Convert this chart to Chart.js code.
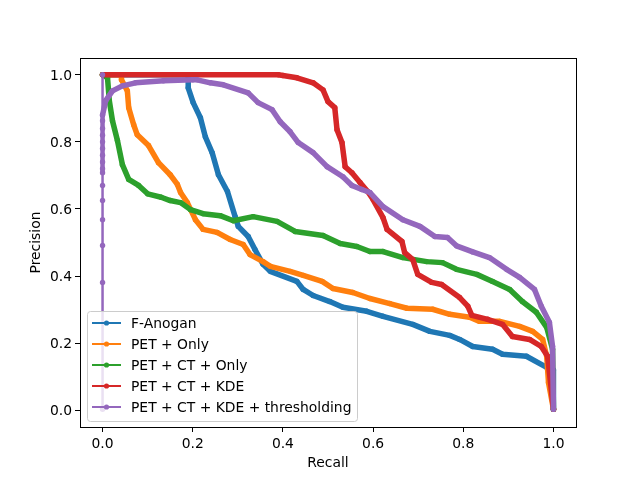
<!DOCTYPE html>
<html>
<head>
<meta charset="utf-8">
<title>Precision-Recall</title>
<script src="https://cdn.jsdelivr.net/npm/chart.js@4"></script>
<style>
  html, body { margin: 0; padding: 0; background: #fff; }
  canvas { display: block; }
</style>
</head>
<body>
<canvas id="prChart" width="640" height="480"></canvas>
<script>
const seriesNames = ['F-Anogan', 'PET + Only', 'PET + CT + Only', 'PET + CT + KDE', 'PET + CT + KDE + thresholding'];
const seriesColors = ['#1f77b4', '#ff7f0e', '#2ca02c', '#d62728', '#9467bd'];
const xTicks = [0, 0.2, 0.4, 0.6, 0.8, 1.0];
const yTicks = [0, 0.2, 0.4, 0.6, 0.8, 1.0];

const anoganRecall = [0, 0.19, 0.19, 0.201, 0.217, 0.228, 0.243, 0.257, 0.277, 0.294, 0.301, 0.323, 0.338, 0.356, 0.372, 0.431, 0.445, 0.467, 0.504, 0.533, 0.586, 0.622, 0.688, 0.726, 0.77, 0.792, 0.821, 0.865, 0.887, 0.94, 0.985, 1.0, 1.0];
const anoganPrecision = [1, 1, 0.961, 0.917, 0.872, 0.815, 0.768, 0.702, 0.652, 0.577, 0.548, 0.518, 0.479, 0.435, 0.414, 0.384, 0.36, 0.342, 0.324, 0.307, 0.295, 0.28, 0.256, 0.235, 0.223, 0.211, 0.19, 0.182, 0.167, 0.161, 0.128, 0.12, 0.003];

const petRecall = [0, 0.042, 0.042, 0.055, 0.058, 0.069, 0.077, 0.102, 0.124, 0.15, 0.166, 0.173, 0.188, 0.206, 0.223, 0.254, 0.283, 0.312, 0.327, 0.356, 0.372, 0.416, 0.445, 0.487, 0.511, 0.555, 0.593, 0.637, 0.675, 0.732, 0.77, 0.814, 0.836, 0.881, 0.925, 0.954, 0.976, 0.985, 0.989, 1.0];
const petPrecision = [1, 1, 0.985, 0.952, 0.902, 0.851, 0.821, 0.789, 0.738, 0.702, 0.673, 0.649, 0.619, 0.568, 0.539, 0.53, 0.509, 0.494, 0.464, 0.443, 0.429, 0.414, 0.402, 0.384, 0.363, 0.351, 0.333, 0.318, 0.304, 0.301, 0.286, 0.277, 0.265, 0.265, 0.25, 0.235, 0.211, 0.161, 0.083, 0.003];

const petCtRecall = [0, 0.011, 0.015, 0.022, 0.033, 0.044, 0.058, 0.08, 0.1, 0.13, 0.15, 0.173, 0.195, 0.223, 0.261, 0.29, 0.334, 0.387, 0.427, 0.489, 0.527, 0.564, 0.593, 0.622, 0.666, 0.719, 0.754, 0.785, 0.83, 0.865, 0.903, 0.931, 0.962, 0.985, 0.998, 1.0];
const petCtPrecision = [1, 0.991, 0.923, 0.863, 0.804, 0.732, 0.688, 0.67, 0.645, 0.635, 0.625, 0.619, 0.598, 0.586, 0.58, 0.565, 0.577, 0.563, 0.533, 0.521, 0.497, 0.488, 0.473, 0.473, 0.455, 0.443, 0.44, 0.42, 0.405, 0.384, 0.36, 0.324, 0.292, 0.247, 0.182, 0.003];

const kdeRecall = [0, 0.39, 0.40, 0.431, 0.467, 0.489, 0.5, 0.515, 0.52, 0.531, 0.538, 0.553, 0.571, 0.588, 0.6, 0.622, 0.631, 0.664, 0.67, 0.688, 0.699, 0.73, 0.752, 0.792, 0.81, 0.819, 0.854, 0.887, 0.909, 0.947, 0.973, 0.987, 1.0];
const kdePrecision = [1, 1, 0.998, 0.991, 0.976, 0.955, 0.92, 0.902, 0.836, 0.798, 0.726, 0.708, 0.679, 0.652, 0.628, 0.574, 0.539, 0.503, 0.47, 0.449, 0.405, 0.381, 0.375, 0.336, 0.31, 0.283, 0.271, 0.256, 0.22, 0.211, 0.19, 0.161, 0.003];

const threshRecall = [0, 0, 0, 0, 0, 0, 0, 0, 0, 0, 0, 0, 0, 0, 0, 0, 0, 0.007, 0.022, 0.044, 0.073, 0.135, 0.2, 0.21, 0.239, 0.268, 0.323, 0.345, 0.376, 0.394, 0.416, 0.434, 0.467, 0.498, 0.533, 0.553, 0.575, 0.593, 0.622, 0.666, 0.704, 0.737, 0.765, 0.785, 0.821, 0.858, 0.896, 0.925, 0.958, 0.973, 0.991, 0.998, 1.0];
const threshPrecision = [1, 0.003, 0.381, 0.491, 0.568, 0.625, 0.67, 0.708, 0.72, 0.74, 0.76, 0.78, 0.8, 0.82, 0.84, 0.863, 0.88, 0.923, 0.952, 0.967, 0.976, 0.982, 0.985, 0.985, 0.976, 0.97, 0.946, 0.917, 0.896, 0.86, 0.83, 0.798, 0.768, 0.726, 0.696, 0.67, 0.658, 0.649, 0.607, 0.568, 0.548, 0.518, 0.515, 0.49, 0.472, 0.455, 0.42, 0.396, 0.36, 0.31, 0.262, 0.19, 0.003];

const seriesRecall = [anoganRecall, petRecall, petCtRecall, kdeRecall, threshRecall];
const seriesPrecision = [anoganPrecision, petPrecision, petCtPrecision, kdePrecision, threshPrecision];

const plotBox = { left: 80, right: 576, top: 58, bottom: 427 };
const fontSpec = { family: '"DejaVu Sans"', size: 13.89 };

// axes frame, then a matplotlib style legend inside the plot
const framePlugin = {
    id: 'frame',
    afterDatasetsDraw(chart) {
        const a = chart.chartArea;
        const c = chart.ctx;
        c.save();
        c.strokeStyle = '#000';
        c.lineWidth = 1;
        c.strokeRect(a.left + 0.5, a.top + 0.5, a.right - a.left, a.bottom - a.top);

        c.beginPath();
        c.roundRect(87.5, 311.5, 270, 110, 3);
        c.fillStyle = 'rgba(255,255,255,0.8)';
        c.fill();
        c.strokeStyle = '#ccc';
        c.stroke();

        c.font = '13.89px "DejaVu Sans"';
        c.textBaseline = 'middle';
        seriesNames.forEach(function(name, i) {
            const y = 323 + i * 21;
            c.strokeStyle = seriesColors[i];
            c.lineWidth = 2;
            c.beginPath();
            c.moveTo(92, y);
            c.lineTo(121, y);
            c.stroke();
            c.fillStyle = seriesColors[i];
            c.beginPath();
            c.arc(106.5, y, 2.6, 0, Math.PI * 2);
            c.fill();
            c.fillStyle = '#000';
            c.fillText(name, 131, y + 1);
        });
        c.restore();
    }
};

const axisStyle = function(title, ticks) {
    return {
        type: 'linear',
        min: -0.05,
        max: 1.05,
        title: { display: true, text: title, color: '#000', font: fontSpec },
        grid: { drawOnChartArea: false, drawTicks: true, tickLength: 5, tickColor: '#000', tickWidth: 1 },
        border: { display: false },
        ticks: {
            color: '#000',
            font: fontSpec,
            padding: 4,
            maxRotation: 0,
            callback: function(v) { return v.toFixed(1); }
        },
        afterBuildTicks: function(scale) {
            scale.ticks = ticks.map(function(v) { return { value: v }; });
        }
    };
};

const xAxis = axisStyle('Recall', xTicks);
xAxis.title.padding = { top: 0, bottom: 8 };
xAxis.afterFit = function(scale) { scale.height = 480 - plotBox.bottom; };
const yAxis = axisStyle('Precision', yTicks);
yAxis.title.padding = { top: 28, bottom: 0 };
yAxis.ticks.padding = 3;
yAxis.ticks.labelOffset = 1.5;
yAxis.afterFit = function(scale) { scale.width = plotBox.left; };

new Chart(document.getElementById('prChart').getContext('2d'), {
    type: 'scatter',
    data: {
        datasets: seriesNames.map(function(name, i) {
            return {
                label: name,
                data: seriesRecall[i].map(function(r, j) { return { x: r, y: seriesPrecision[i][j] }; }),
                showLine: true,
                order: seriesNames.length - i,
                borderColor: seriesColors[i],
                backgroundColor: seriesColors[i],
                borderWidth: 5.5,
                borderJoinStyle: 'round',
                borderCapStyle: 'round',
                pointRadius: 2.7,
                pointBorderWidth: 0,
                tension: 0,
                clip: false,
                segment: {
                    // along recall = 0 the run is sparse low down, so only a thin line with dots
                    borderWidth: function(ctx) {
                        if (ctx.p0.parsed.x !== 0 || ctx.p1.parsed.x !== 0) return 5.5;
                        return ctx.p0.parsed.y >= 0.7 && ctx.p1.parsed.y >= 0.7 ? 4.5 : 2.5;
                    }
                }
            };
        })
    },
    options: {
        responsive: false,
        animation: false,
        layout: { padding: { left: 0, right: 640 - plotBox.right, top: plotBox.top, bottom: 0 } },
        plugins: { legend: { display: false }, tooltip: { enabled: false } },
        scales: { x: xAxis, y: yAxis }
    },
    plugins: [framePlugin]
});
</script>
</body>
</html>
